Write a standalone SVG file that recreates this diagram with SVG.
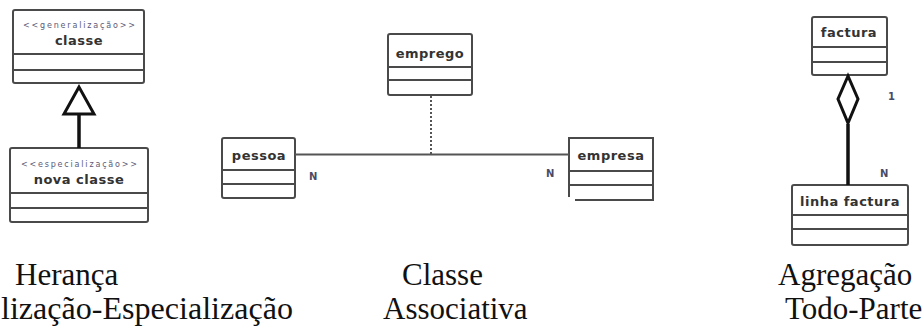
<svg xmlns="http://www.w3.org/2000/svg" width="924" height="329" viewBox="0 0 924 329">
  <style>
    .box { fill: #fff; stroke: #4a4a4a; stroke-width: 2; }
    .sep { stroke: #4a4a4a; stroke-width: 2; fill: none; }
    .name { font-family: "DejaVu Sans", sans-serif; font-weight: bold; font-size: 13px; fill: #333; text-anchor: middle; letter-spacing: 0.5px; }
    .stereo { font-family: "DejaVu Sans", sans-serif; font-size: 8px; fill: #5a5a78; text-anchor: middle; }
    .mult { font-family: "DejaVu Sans", sans-serif; font-weight: bold; font-size: 10px; fill: #4a4a66; }
    .assoc { stroke: #555; stroke-width: 2; fill: none; }
    .strong { stroke: #111; stroke-width: 3.5; fill: none; }
    .caption { font-family: "Liberation Serif", "Times New Roman", serif; font-size: 31px; fill: #111; }
  </style>

  <!-- generalisation: parent class -->
  <g id="classe">
    <rect class="box" x="13" y="10" width="131" height="73" rx="2"/>
    <line class="sep" x1="13" y1="54" x2="144" y2="54"/>
    <line class="sep" x1="13" y1="70" x2="144" y2="70"/>
    <text class="stereo" x="79" y="28" textLength="112" lengthAdjust="spacing">&lt;&lt;generalização&gt;&gt;</text>
    <text class="name" x="79" y="45">classe</text>
  </g>

  <!-- generalisation: child class -->
  <g id="nova-classe">
    <rect class="box" x="10" y="148" width="138" height="74" rx="2"/>
    <line class="sep" x1="10" y1="193" x2="148" y2="193"/>
    <line class="sep" x1="10" y1="208" x2="148" y2="208"/>
    <text class="stereo" x="79" y="167" textLength="116" lengthAdjust="spacing">&lt;&lt;especialização&gt;&gt;</text>
    <text class="name" x="79" y="184">nova classe</text>
  </g>

  <!-- association class -->
  <g id="emprego">
    <rect class="box" x="388" y="34" width="84" height="61" rx="2"/>
    <line class="sep" x1="388" y1="67" x2="472" y2="67"/>
    <line class="sep" x1="388" y1="80" x2="472" y2="80"/>
    <text class="name" x="430" y="58">emprego</text>
  </g>

  <g id="pessoa">
    <rect class="box" x="222" y="138" width="73" height="60" rx="2"/>
    <line class="sep" x1="222" y1="170" x2="295" y2="170"/>
    <line class="sep" x1="222" y1="184" x2="295" y2="184"/>
    <text class="name" x="259" y="160">pessoa</text>
  </g>

  <g id="empresa">
    <path class="box" d="M575,200 H653 V138 H569 V197"/>
    <line class="sep" x1="569" y1="171" x2="653" y2="171"/>
    <line class="sep" x1="569" y1="185" x2="653" y2="185"/>
    <text class="name" x="611" y="160">empresa</text>
  </g>

  <!-- aggregation: whole and part -->
  <g id="factura">
    <rect class="box" x="812" y="17" width="75" height="58" rx="2"/>
    <line class="sep" x1="812" y1="47" x2="887" y2="47"/>
    <line class="sep" x1="812" y1="62" x2="887" y2="62"/>
    <text class="name" x="849" y="37">factura</text>
  </g>

  <g id="linha-factura">
    <rect class="box" x="792" y="185" width="116" height="60" rx="2"/>
    <line class="sep" x1="792" y1="215" x2="908" y2="215"/>
    <line class="sep" x1="792" y1="229" x2="908" y2="229"/>
    <text class="name" x="850" y="206">linha factura</text>
  </g>

  <g id="connectors">
    <!-- inheritance arrow -->
    <line class="strong" x1="79" y1="148" x2="79" y2="114"/>
    <polygon points="79,87 64,114 94,114" fill="#fff" stroke="#111" stroke-width="3" stroke-linejoin="miter"/>

    <!-- association with association class -->
    <line class="assoc" x1="295" y1="154.5" x2="569" y2="154.5"/>
    <line class="assoc" x1="431" y1="96" x2="431" y2="154" stroke-dasharray="2,2"/>

    <!-- aggregation diamond -->
    <line class="strong" x1="848" y1="124" x2="848" y2="185"/>
    <polygon points="848,76 838,99 848,123 858,99" fill="#fff" stroke="#111" stroke-width="3"/>

    <text class="mult" x="309" y="180">N</text>
    <text class="mult" x="546" y="177">N</text>
    <text class="mult" x="888" y="100">1</text>
    <text class="mult" x="880" y="177">N</text>
  </g>

  <!-- captions -->
  <g id="captions">
    <text class="caption" x="15" y="285">Herança</text>
    <text class="caption" x="1" y="319" textLength="292" lengthAdjust="spacingAndGlyphs">lização-Especialização</text>
    <text class="caption" x="402" y="285">Classe</text>
    <text class="caption" x="383" y="319">Associativa</text>
    <text class="caption" x="778" y="285">Agregação</text>
    <text class="caption" x="785" y="319">Todo-Parte</text>
  </g>
</svg>
